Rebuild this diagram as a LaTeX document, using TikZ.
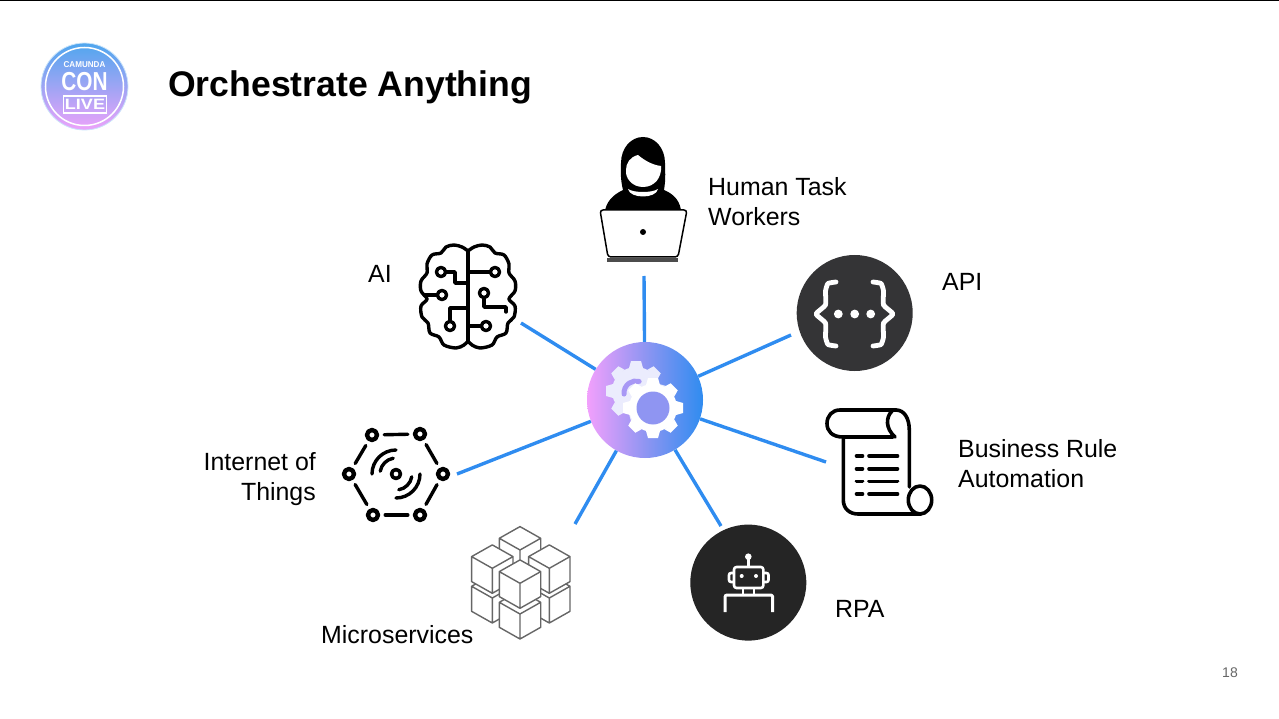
\documentclass[tikz,border=0pt]{standalone}
\usepackage{fontspec}
\setmainfont{Liberation Sans}
\usetikzlibrary{arrows.meta,positioning}
\definecolor{spokeblue}{HTML}{2F8CF0}
\definecolor{darkdisc}{HTML}{343436}
\definecolor{robotdisc}{HTML}{252525}
\definecolor{cubegray}{HTML}{666666}
\definecolor{holeviolet}{HTML}{8F95F2}
\definecolor{hubpink}{HTML}{F2A0FC}
\definecolor{logoblue}{HTML}{4FA6EE}
\definecolor{logopink}{HTML}{EDA3FA}
\begin{document}
\begin{tikzpicture}[
      x=1pt, y=-1pt,
      spoke/.style={draw=spokeblue, line width=3.4pt},
      caption/.style={inner sep=0pt, font=\fontsize{24.9}{30}\selectfont},
      hub/.style={circle, minimum size=116pt, inner sep=0pt, left color=hubpink, right color=spokeblue, middle color=holeviolet},
      disc/.style={circle, minimum size=116pt, inner sep=0pt},
      icon/.style={line width=3.4pt, line cap=round, line join=round},
      gearicon/.pic={
        \fill[#1] (0,0) circle[radius=24];
        \foreach \a in {0,45,...,315}
          \fill[#1, rotate=\a] (-7,-23) -- (-5,-30) -- (5,-30) -- (7,-23) -- cycle;
      },
      cubeicon/.pic={
        \fill[white] (0,-23.4) -- (20.7,-11.7) -- (20.7,13.3) -- (0,25) -- (-20.7,13.3) -- (-20.7,-11.7) -- cycle;
        \draw[draw=cubegray, line width=1.4pt, line join=round]
          (0,0) -- (20.7,-11.7) -- (0,-23.4) -- (-20.7,-11.7) -- cycle
          (-20.7,-11.7) -- (-20.7,13.3) -- (0,25) -- (20.7,13.3) -- (20.7,-11.7)
          (0,0) -- (0,25);
      }
    ]
      \useasboundingbox (0,0) rectangle (1279,719);
      \fill[black] (0,0) rectangle (1279,1.2);

      % logo
      \node[circle, minimum size=87pt, inner sep=0pt, top color=logoblue, bottom color=logopink, draw=white!70!logoblue, line width=.8pt] (logo) at (84.5,86.5) {};
      \node[circle, minimum size=78pt, inner sep=0pt, draw=white, line width=1.5pt] (logoring) at (logo) {};
      \node[inner sep=0pt, text=white, font=\fontsize{8.5}{9}\selectfont\bfseries] (logocamunda) at (84.5,64.5) {\scalebox{.95}[1]{CAMUNDA}};
      \node[inner sep=0pt, text=white, font=\fontsize{26}{26}\selectfont\bfseries] (logocon) at (84.5,82) {\scalebox{.8}[1]{CON}};
      \node[draw=white, line width=1.6pt, inner sep=0pt, minimum width=43pt, minimum height=17pt, text=white, font=\fontsize{15}{15}\selectfont\bfseries] (logolive) at (85,104.5) {\scalebox{1.2}[1]{LIVE}};

      \node[anchor=west, inner sep=0pt, font=\fontsize{35.6}{40}\selectfont\bfseries] (title) at (168,87) {Orchestrate Anything};

      % spokes
      \node[hub] (gearhub) at (645,400) {};
      \coordinate (humanend) at (644,276);
      \coordinate (aiend) at (521,323);
      \coordinate (apiend) at (791,335);
      \coordinate (ruleend) at (826,462);
      \coordinate (rpaend) at (721,526);
      \coordinate (microend) at (575,524);
      \coordinate (iotend) at (457,474);
      \foreach \e in {humanend,aiend,apiend,ruleend,rpaend,microend,iotend}
        \draw[spoke] (gearhub) -- (\e);

      % gears
      \pic at (636,391) {gearicon={white!82!holeviolet}};
      \draw[holeviolet!75!hubpink, line width=5pt, line cap=round] (636,393) ++(175:12) arc[start angle=175, end angle=285, radius=12];
      \pic at (653,408) {gearicon=white};
      \fill[holeviolet] (653,408) circle[radius=16.5];

      % human
      \fill[black] (605,210) .. controls (608,198) and (617,193) .. (623,190)
        .. controls (620,178) and (621,170) .. (621,163) .. controls (621,148) and (631,137) .. (643,137)
        .. controls (655,137) and (665,148) .. (665,163) .. controls (665,170) and (666,178) .. (664,190)
        .. controls (671,193) and (679,198) .. (681,210) -- cycle;
      \fill[white] (626,170) .. controls (626,163) and (630,157) .. (638,155)
        .. controls (644,160) and (652,165) .. (661,166) .. controls (662,177) and (655,187) .. (643,187)
        .. controls (632,187) and (625,178) .. (626,170) -- cycle;
      \fill[white] (628,189) .. controls (634,193) and (652,193) .. (658,189) .. controls (656,199) and (630,199) .. (628,189) -- cycle;
      \draw[fill=white, line width=1.5pt, rounded corners=3pt] (600,210) -- (687,210) -- (678,257) -- (608,257) -- cycle;
      \fill[black!70] (607,258) rectangle (678,262);
      \fill[black] (643,232) circle[radius=3];

      % brain
      \begin{scope}[shift={(468,297)}, icon]
        \foreach \s in {1,-1}
          \draw[xscale=\s] plot[smooth, tension=.55] coordinates {(0,-46) (6,-50) (14,-52) (22,-50) (27,-44) (36,-42) (41,-33) (41,-24) (47,-16) (47,-6) (41,2) (47,9) (46,20) (40,26) (38,36) (29,40) (24,48) (12,51) (4,48) (0,44)};
        \draw (0,-46) -- (0,44);
        \draw (0,-25) -- (22,-25);
        \draw (16,1) -- (16,10) -- (38,10) -- (38,15);
        \draw (0,29) -- (13,29);
        \draw (-22,-25) -- (-13,-25) -- (-13,-14) -- (0,-14);
        \draw (-44,-2) -- (-31,-2);
        \draw (-18,24) -- (-18,11) -- (0,11);
        \foreach \p in {(27,-25),(16,-4),(18,29),(-27,-25),(-26,-2),(-18,29)}
          \draw \p circle[radius=4.6];
      \end{scope}

      % api
      \node[disc, fill=darkdisc] (apidisc) at (854.7,313) {};
      \begin{scope}[line width=4.8pt, line cap=round, line join=round]
        \draw[white] plot[smooth, tension=.3] coordinates {(836,282) (828,283.5) (825.5,291) (825.5,305) (816,314) (825.5,323) (825.5,337) (828,344.5) (836,346)};
        \draw[white] plot[smooth, tension=.3] coordinates {(873,282) (881,283.5) (883.5,291) (883.5,305) (893,314) (883.5,323) (883.5,337) (881,344.5) (873,346)};
      \end{scope}
      \foreach \p in {838.3,854.7,870.7}
        \fill[white] (\p,314) circle[radius=4.4];

      % rule scroll
      \begin{scope}[line width=3.6pt, line cap=round, line join=round]
        \draw (843,437) -- (893,437) (896,410) -- (840,410) .. controls (832,410) and (827,416) .. (827,423.5) .. controls (827,431) and (832,437) .. (843,437);
        \draw (896,410) .. controls (904,410) and (909.3,418) .. (909.3,430) -- (909.3,487);
        \draw (892,411) .. controls (886,417) and (885,428) .. (895,437);
        \draw (843.3,437) -- (843.3,500) .. controls (843.3,509) and (850,514) .. (858,514) -- (921,514);
        \draw (920,500) ellipse[x radius=11.7, y radius=14];
        \foreach \y in {456,468.7,481.3,494}{
          \draw (856.5,\y) -- (862.5,\y);
          \draw (869,\y) -- (897.5,\y);
        }
      \end{scope}

      % rpa
      \node[disc, fill=robotdisc] (rpadisc) at (748.3,582.6) {};
      \begin{scope}[draw=white, line width=2.6pt, line join=round]
        \fill[white] (748.3,556.7) circle[radius=3.3];
        \draw (748.3,556.7) -- (748.3,567);
        \draw[rounded corners=2.5pt] (734,567) rectangle (763.3,588);
        \fill[white] (741.7,576) circle[radius=2] (756,576) circle[radius=2];
        \draw[rounded corners=2pt] (734,573) -- (729,573) -- (729,582) -- (734,582);
        \draw[rounded corners=2pt] (763.3,573) -- (768.5,573) -- (768.5,582) -- (763.3,582);
        \draw (743,588) -- (743,595) (754,588) -- (754,595);
        \draw[rounded corners=2pt, line width=3pt] (725,612) -- (725,595) -- (772.7,595) -- (772.7,612);
      \end{scope}

      % cubes
      \pic at (492.3,598) {cubeicon};
      \pic at (549.3,598) {cubeicon};
      \pic at (520,614) {cubeicon};
      \pic at (520,550) {cubeicon};
      \pic at (492.3,568.3) {cubeicon};
      \pic at (549.3,568.3) {cubeicon};
      \pic at (520,583.3) {cubeicon};

      % iot
      \begin{scope}[icon]
        \foreach \n/\p in {a/{(372,435)},b/{(420,434)},c/{(443,474)},d/{(420,515)},e/{(373,515)},f/{(349,474)}}
          \node[circle, draw, line width=4.4pt, minimum size=10pt, inner sep=0pt] (iot\n) at \p {};
        \foreach \u/\v in {a/b,b/c,c/d,d/e,e/f,f/a}
          \draw[shorten >=5pt, shorten <=5pt] (iot\u) -- (iot\v);
        \node[circle, draw, line width=3.6pt, minimum size=9pt, inner sep=0pt] (iotcore) at (396,474) {};
        \draw (396,474) ++(190:16) arc[start angle=190, end angle=260, radius=16];
        \draw (396,474) ++(180:24) arc[start angle=180, end angle=270, radius=24];
        \draw (396,474) ++(10:16) arc[start angle=10, end angle=80, radius=16];
        \draw (396,474) ++(0:24) arc[start angle=0, end angle=90, radius=24];
      \end{scope}

      % captions
      \node[caption, anchor=west, align=left] (humanlabel) at (708,201.5) {Human Task\\Workers};
      \node[caption, anchor=west] (ailabel) at (368,273.5) {AI};
      \node[caption, anchor=west] (apilabel) at (942,281.5) {API};
      \node[caption, anchor=west, align=left] (rulelabel) at (958,463.5) {Business Rule\\Automation};
      \node[caption, anchor=west] (rpalabel) at (835,608.5) {RPA};
      \node[caption, anchor=west] (microlabel) at (321,634.5) {Microservices};
      \node[caption, anchor=east, align=right] (iotlabel) at (316,479.5) {Internet of\\Things};
      \node[anchor=east, inner sep=0pt, text=black!60, font=\fontsize{14}{16}\selectfont] (pagenum) at (1238,673) {18};
    \end{tikzpicture}
\end{document}
